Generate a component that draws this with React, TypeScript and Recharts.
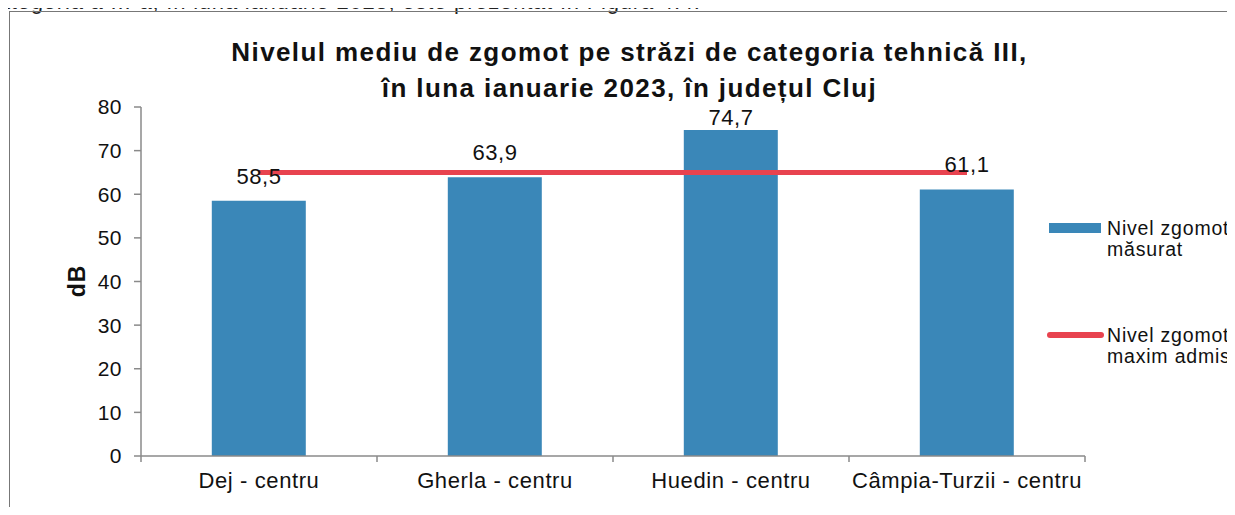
import { ComposedChart, Bar, Line, XAxis, YAxis, LabelList } from "recharts";

const categories = ["Dej - centru", "Gherla - centru", "Huedin - centru", "Câmpia-Turzii - centru"];
const measured = [58.5, 63.9, 74.7, 61.1];
const maxAdmitted = [65, 65, 65, 65];
const yTicks = [0, 10, 20, 30, 40, 50, 60, 70, 80];

const data = categories.map((name, i) => ({
  name,
  measured: measured[i],
  limit: maxAdmitted[i],
}));

const FONT = "'Liberation Sans', Arial, sans-serif";
const BLUE = "#3a87b8";
const RED = "#e8434f";
const AXIS = "#8a8a8a";

const W = 1235;
const H = 515;
const margin = { top: 107, right: 150, bottom: 29, left: 81 };
const yAxisWidth = 60;
const bandWidth = (W - margin.left - yAxisWidth - margin.right) / categories.length;

const fmt = (v: number) => String(v).replace(".", ",");

function CategoryTick(props: any) {
  const { x, y, payload } = props;
  return (
    <g>
      <line x1={x + bandWidth / 2} x2={x + bandWidth / 2} y1={y - 8} y2={y - 2} stroke={AXIS} strokeWidth={1.5} />
      {payload.index === 0 && (
        <line x1={x - bandWidth / 2} x2={x - bandWidth / 2} y1={y - 8} y2={y - 2} stroke={AXIS} strokeWidth={1.5} />
      )}
      <text x={x} y={y + 24} textAnchor="middle" fill="#111" fontSize={22} letterSpacing={0.6} fontFamily={FONT}>
        {payload.value}
      </text>
    </g>
  );
}

function ValueLabel(props: any) {
  const { x, y, value } = props;
  const ty = Math.max(y - 17, margin.top + 18);
  return (
    <text x={x} y={ty} textAnchor="middle" fill="#111" fontSize={22} letterSpacing={0.5} fontFamily={FONT}>
      {fmt(value)}
    </text>
  );
}

function LegendBox() {
  const text = { fontSize: 19.5, lineHeight: "21px", color: "#111", letterSpacing: 0.8, whiteSpace: "nowrap" as const };
  return (
    <div style={{ position: "absolute", left: 1047, top: 215, width: 190, height: 160, fontFamily: FONT }}>
      <div style={{ position: "absolute", left: 2, top: 8, width: 52, height: 10, background: BLUE }} />
      <div style={{ position: "absolute", left: 60, top: 3, ...text }}>
        Nivel zgomot
        <br />
        măsurat
      </div>
      <div style={{ position: "absolute", left: 0, top: 117, width: 57, height: 6, borderRadius: 3, background: RED }} />
      <div style={{ position: "absolute", left: 60, top: 110, ...text }}>
        Nivel zgomot
        <br />
        maxim admis
      </div>
    </div>
  );
}

export default function App() {
  return (
    <div style={{ position: "relative", margin: -8, width: W, height: H, background: "#fff", overflow: "hidden", fontFamily: FONT }}>
      <div style={{ position: "absolute", left: -14, top: -9, fontSize: 22, lineHeight: "22px", whiteSpace: "nowrap", color: "#222", letterSpacing: 0.8 }}>
        categoria a III-a, în luna ianuarie 2023, este prezentat în Figura 4.4.
      </div>
      <div style={{ position: "absolute", left: 9, top: 11, width: 1222, height: 520, borderTop: "1.5px solid #777", borderLeft: "1.5px solid #777" }} />
      <div style={{ position: "absolute", left: 0, top: 34, width: 1259, textAlign: "center", fontSize: 26, fontWeight: 700, lineHeight: "36px", color: "#111", letterSpacing: 1.4 }}>
        Nivelul mediu de zgomot pe străzi de categoria tehnică III,
        <br />
        în luna ianuarie 2023, în județul Cluj
      </div>
      <div style={{ position: "absolute", left: 77, top: 281, transform: "translate(-50%, -50%) rotate(-90deg)", fontSize: 23, fontWeight: 700, color: "#111", letterSpacing: 1 }}>
        dB
      </div>
      <div style={{ position: "absolute", left: 0, top: 0 }}>
        <ComposedChart width={W} height={H} data={data} margin={margin} barCategoryGap="30%">
          <XAxis
            dataKey="name"
            height={30}
            axisLine={{ stroke: AXIS, strokeWidth: 1.5 }}
            tickLine={false}
            tick={<CategoryTick />}
            interval={0}
          />
          <YAxis
            width={yAxisWidth}
            domain={[0, 80]}
            ticks={yTicks}
            interval={0}
            tickSize={7}
            tickMargin={12}
            axisLine={{ stroke: AXIS, strokeWidth: 1.5 }}
            tickLine={{ stroke: AXIS, strokeWidth: 1.5 }}
            tick={{ fill: "#111", fontSize: 21, fontFamily: FONT, letterSpacing: 0.5 }}
          />
          <Bar dataKey="measured" name="Nivel zgomot măsurat" fill={BLUE} isAnimationActive={false} />
          <Line
            dataKey="limit"
            name="Nivel zgomot maxim admis"
            stroke={RED}
            strokeWidth={5}
            dot={false}
            activeDot={false}
            isAnimationActive={false}
          />
          <Line
            dataKey="measured"
            stroke="none"
            dot={false}
            activeDot={false}
            legendType="none"
            isAnimationActive={false}
          >
            <LabelList dataKey="measured" content={<ValueLabel />} />
          </Line>
        </ComposedChart>
      </div>
      <LegendBox />
    </div>
  );
}
